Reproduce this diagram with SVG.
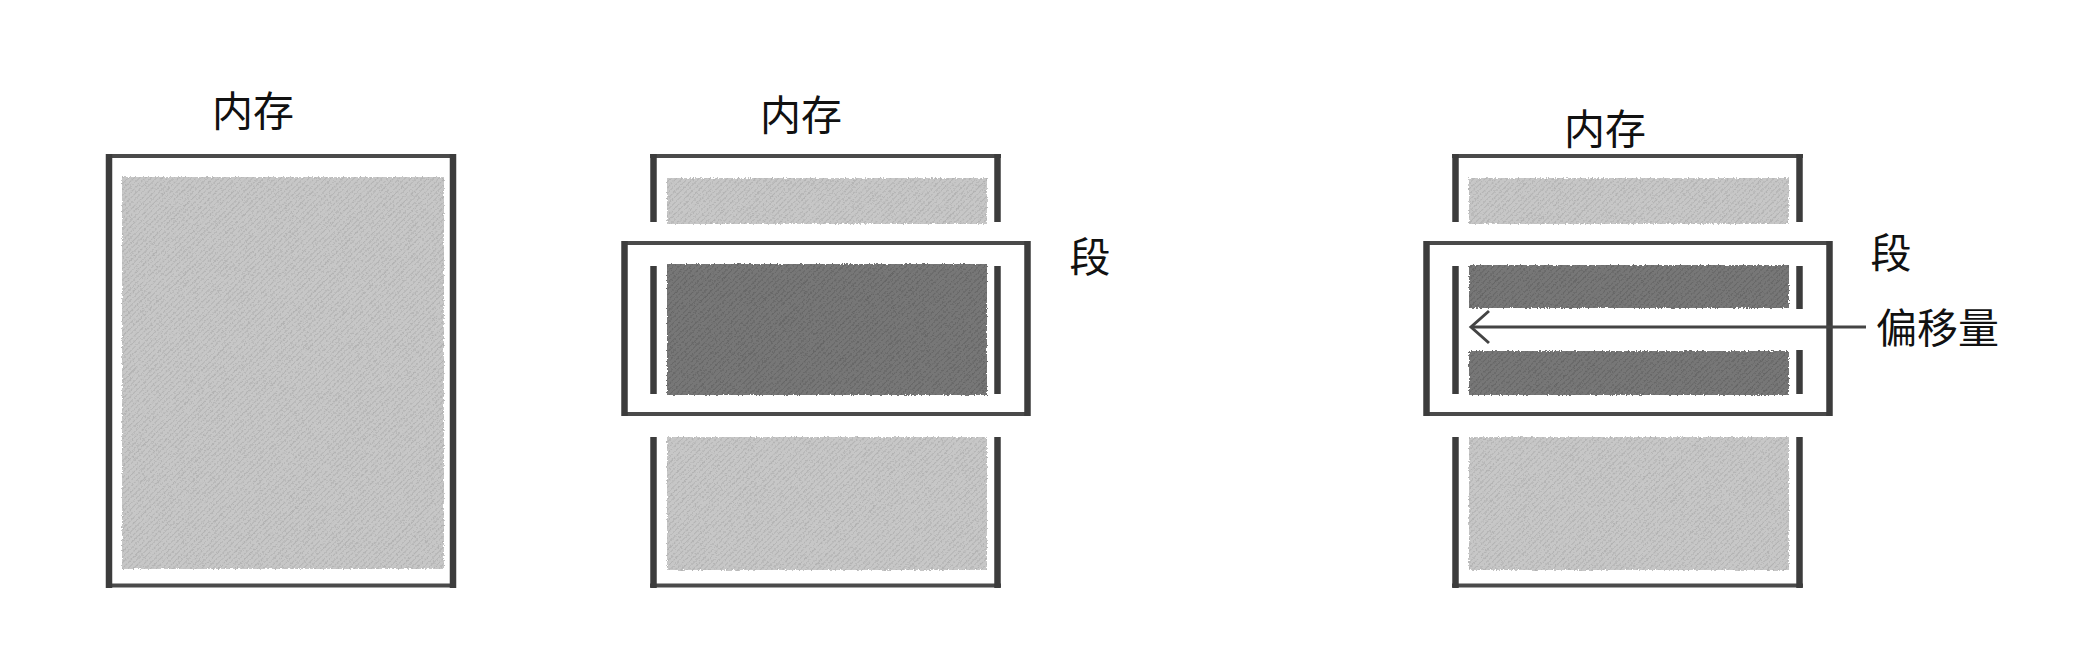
<svg xmlns="http://www.w3.org/2000/svg" width="2090" height="656" viewBox="0 0 2090 656">
<style>
.v{stroke:#3c3c3c;stroke-width:6.5;fill:none}
.h{stroke:#4a4a4a;stroke-width:4;fill:none}
.lbl{font-family:"Noto Sans CJK SC","Noto Sans",sans-serif;font-size:41px;fill:#111}
.lt{fill:url(#hatchLight);filter:url(#fuzz)}
.dk{fill:url(#hatchDark);filter:url(#fuzz)}
.arrow{stroke:#444;stroke-width:3;fill:none}
</style>
<defs>
<pattern id="hatchLight" patternUnits="userSpaceOnUse" width="4" height="4" patternTransform="rotate(45)">
<rect width="4" height="4" fill="#c7c7c7"/>
<line x1="0" y1="0" x2="0" y2="4" stroke="#aeaeae" stroke-width="1.6"/>
</pattern>
<pattern id="hatchDark" patternUnits="userSpaceOnUse" width="4" height="4" patternTransform="rotate(45)">
<rect width="4" height="4" fill="#777"/>
<line x1="0" y1="0" x2="0" y2="4" stroke="#616161" stroke-width="1.6"/>
</pattern>
<filter id="fuzz" x="-3%" y="-3%" width="106%" height="106%">
<feTurbulence type="fractalNoise" baseFrequency="0.6" numOctaves="1" seed="3" result="n"/>
<feDisplacementMap in="SourceGraphic" in2="n" scale="4" xChannelSelector="R" yChannelSelector="G"/>
</filter>
<marker id="chev" markerUnits="userSpaceOnUse" markerWidth="26" markerHeight="38" refX="22" refY="19" orient="auto" overflow="visible">
<path d="M4,3 L22,19 L4,35" stroke="#444" stroke-width="3" fill="none"/>
</marker>
</defs>

<g id="memory1">
<text class="lbl" x="253" y="126" text-anchor="middle">内存</text>
<rect class="lt" x="122" y="177" width="322" height="392"/>
<line class="h" x1="106" y1="156" x2="456" y2="156"/>
<line class="h" x1="106" y1="585.5" x2="456" y2="585.5"/>
<line class="v" x1="109" y1="154" x2="109" y2="588"/>
<line class="v" x1="453" y1="154" x2="453" y2="588"/>
</g>

<g id="memory2">
<text class="lbl" x="801" y="130" text-anchor="middle">内存</text>
<rect class="lt" x="667" y="178" width="320" height="46"/>
<rect class="lt" x="667" y="437" width="320" height="133"/>
<line class="h" x1="650" y1="156" x2="1001" y2="156"/>
<line class="v" x1="653.5" y1="154" x2="653.5" y2="222"/>
<line class="v" x1="997.5" y1="154" x2="997.5" y2="222"/>
<line class="h" x1="650" y1="585.5" x2="1001" y2="585.5"/>
<line class="v" x1="653.5" y1="437" x2="653.5" y2="588"/>
<line class="v" x1="997.5" y1="437" x2="997.5" y2="588"/>
</g>

<g id="segment2">
<text class="lbl" x="1090" y="272" text-anchor="middle">段</text>
<rect class="dk" x="667" y="264" width="320" height="131"/>
<line class="v" x1="653.5" y1="266" x2="653.5" y2="394"/>
<line class="v" x1="997.5" y1="266" x2="997.5" y2="394"/>
<line class="h" x1="622" y1="243" x2="1030" y2="243"/>
<line class="h" x1="622" y1="414" x2="1030" y2="414"/>
<line class="v" x1="624.5" y1="241" x2="624.5" y2="416"/>
<line class="v" x1="1027.5" y1="241" x2="1027.5" y2="416"/>
</g>

<g id="memory3">
<text class="lbl" x="1605" y="144" text-anchor="middle">内存</text>
<rect class="lt" x="1469" y="178" width="320" height="46"/>
<rect class="lt" x="1469" y="437" width="320" height="133"/>
<line class="h" x1="1452" y1="156" x2="1803" y2="156"/>
<line class="v" x1="1455.5" y1="154" x2="1455.5" y2="222"/>
<line class="v" x1="1799.5" y1="154" x2="1799.5" y2="222"/>
<line class="h" x1="1452" y1="585.5" x2="1803" y2="585.5"/>
<line class="v" x1="1455.5" y1="437" x2="1455.5" y2="588"/>
<line class="v" x1="1799.5" y1="437" x2="1799.5" y2="588"/>
</g>

<g id="segment3">
<text class="lbl" x="1891" y="268" text-anchor="middle">段</text>
<rect class="dk" x="1469" y="265" width="320" height="43"/>
<rect class="dk" x="1469" y="351" width="320" height="44"/>
<line class="v" x1="1455.5" y1="266" x2="1455.5" y2="394"/>
<line class="v" x1="1799.5" y1="266" x2="1799.5" y2="309"/>
<line class="v" x1="1799.5" y1="350" x2="1799.5" y2="394"/>
<line class="h" x1="1424" y1="243" x2="1832" y2="243"/>
<line class="h" x1="1424" y1="414" x2="1832" y2="414"/>
<line class="v" x1="1426.5" y1="241" x2="1426.5" y2="416"/>
<line class="v" x1="1829.5" y1="241" x2="1829.5" y2="416"/>
</g>

<g id="offset">
<text class="lbl" x="1876" y="343">偏移量</text>
</g>

<g id="connectors">
<line class="arrow" x1="1866" y1="327" x2="1471" y2="327" marker-end="url(#chev)"/>
</g>
</svg>
